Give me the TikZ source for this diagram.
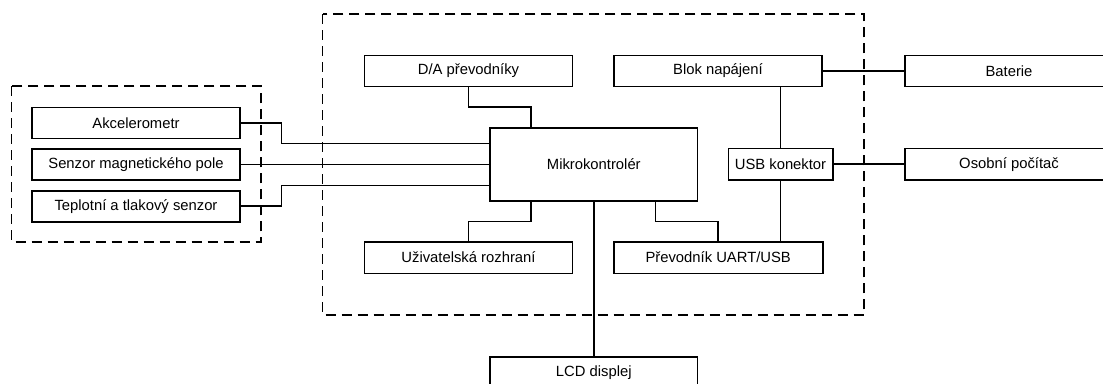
\documentclass[tikz,border=0pt]{standalone}
\usepackage{fontspec}
\setmainfont{Liberation Sans}
\begin{document}
\begin{tikzpicture}[x=1pt,y=-1pt,
  box/.style={draw=black,line width=1.6pt,inner sep=0pt,minimum height=31pt,font=\fontsize{14.8}{17}\selectfont},
  wbox/.style={box,minimum width=208pt},
  conn/.style={draw=black,line width=1.5pt},
  group/.style={draw=black,line width=1.5pt,dash pattern=on 10pt off 6pt}]
\useasboundingbox (0,0) rectangle (1103,383);
\clip (0,0) rectangle (1103,383);
% groups
\draw[group] (11.7,86) rectangle (261,242);
\draw[group] (322.7,14) rectangle (864,315);
% nodes
\node[wbox] (acc) at (136,122.8) {Akcelerometr};
\node[wbox] (mag) at (136,164.5) {Senzor magnetického pole};
\node[wbox] (tep) at (136,206.2) {Teplotní a tlakový senzor};
\node[wbox] (da) at (468.5,71) {D/A převodníky};
\node[wbox] (blok) at (718,70.8) {Blok napájení};
\node[box,minimum width=207.7pt,minimum height=73pt] (mcu) at (593.8,164.2) {Mikrokontrolér};
\node[box,minimum width=104.4pt,minimum height=31.7pt] (usb) at (780.5,164.2) {USB konektor};
\node[wbox] (bat) at (1009,70.8) {Baterie};
\node[wbox,minimum height=31.7pt] (pc) at (1009,164.2) {Osobní počítač};
\node[wbox,minimum height=31.6pt] (uzi) at (468.5,257.5) {Uživatelská rozhraní};
\node[box,minimum width=209pt,minimum height=31.6pt] (uart) at (718.2,257.5) {Převodník UART/USB};
\node[box,minimum width=207.7pt,minimum height=31.6pt] (lcd) at (593.8,372.5) {LCD displej};
% coordinates
\coordinate (a1) at (281.7,143.3);
\coordinate (a3) at (281.7,185.7);
\coordinate (b1) at (531,107);
\coordinate (b2) at (531,221.7);
\coordinate (b3) at (655.7,221.7);
% connectors
\draw[conn] (acc.east) -| (a1) -- (a1 -| mcu.west);
\draw[conn] (mag.east) -- (mag.east -| mcu.west);
\draw[conn] (tep.east) -| (a3) -- (a3 -| mcu.west);
\draw[conn] (da.south) |- (b1) -- (b1 |- mcu.north);
\draw[conn] (b2 |- mcu.south) -- (b2) -| (uzi.north);
\draw[conn] (b3 |- mcu.south) -- (b3) -| (uart.north);
\draw[conn] (mcu.south) -- (lcd.north);
\draw[conn] (usb.north) -- (usb.north |- blok.south);
\draw[conn] (usb.south) -- (usb.south |- uart.north);
\draw[conn] (blok.east) -- (bat.west);
\draw[conn] (usb.east) -- (pc.west);
\end{tikzpicture}
\end{document}
